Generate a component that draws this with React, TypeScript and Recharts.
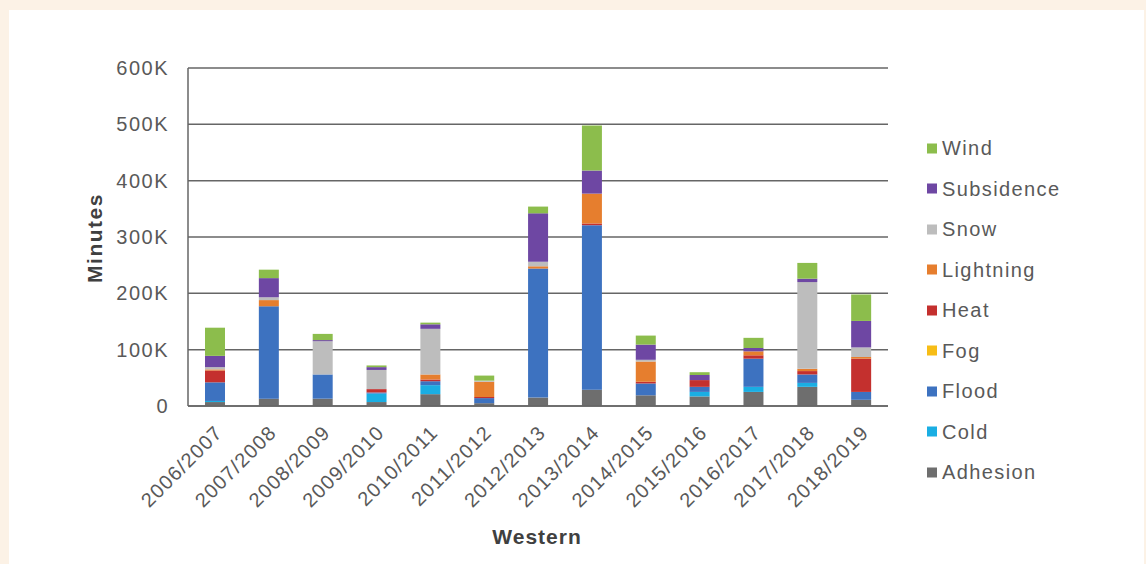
import { BarChart, Bar, XAxis, YAxis, CartesianGrid } from 'recharts'

// seasons on the x axis
const seasons = [
  '2006/2007', '2007/2008', '2008/2009', '2009/2010', '2010/2011', '2011/2012', '2012/2013',
  '2013/2014', '2014/2015', '2015/2016', '2016/2017', '2017/2018', '2018/2019',
]

// delay minutes per cause, in thousands
const adhesion = [7, 13, 13, 7, 21, 5, 15, 29, 19, 17, 25, 34, 11]
const cold = [2, 0, 0, 15, 16, 0, 0, 0, 0, 8, 9, 7, 0]
const flood = [33, 164, 43, 2, 7, 9, 229, 292, 21, 9, 50, 15, 14]
const fog = [0, 0, 0, 0, 0, 0, 0, 0, 0, 0, 0, 0, 0]
const heat = [21, 0, 0, 6, 3, 2, 0, 3, 3, 12, 6, 6, 59]
const lightning = [2, 11, 0, 0, 9, 27, 4, 53, 36, 0, 7, 4, 3]
const snow = [4, 5, 59, 34, 81, 2, 8, 0, 3, 0, 0, 154, 17]
const subsidence = [20, 34, 2, 5, 8, 0, 86, 41, 27, 9, 6, 6, 47]
const wind = [50, 15, 11, 3, 3, 9, 12, 80, 16, 5, 18, 28, 47]

const yTicks = [0, 100000, 200000, 300000, 400000, 500000, 600000]

const series = [
  { key: 'Adhesion', values: adhesion, color: '#6e6e6e' },
  { key: 'Cold', values: cold, color: '#1aaee3' },
  { key: 'Flood', values: flood, color: '#3d72c0' },
  { key: 'Fog', values: fog, color: '#f7bd16' },
  { key: 'Heat', values: heat, color: '#c4302e' },
  { key: 'Lightning', values: lightning, color: '#e67e2e' },
  { key: 'Snow', values: snow, color: '#bdbdbd' },
  { key: 'Subsidence', values: subsidence, color: '#6e47a3' },
  { key: 'Wind', values: wind, color: '#8cbd4c' },
]

const data = seasons.map((season, i) => {
  const row: Record<string, string | number> = { season }
  series.forEach(s => { row[s.key] = s.values[i] * 1000 })
  return row
})

const FONT = '"Liberation Sans", Arial, sans-serif'
const TEXT = '#595959'

const fmtY = (v: number) => (v === 0 ? '0' : `${v / 1000}K`)

function SeasonTick({ x, y, payload }: any) {
  return (
    <g transform={`translate(${x - 1},${y + 10})`}>
      <text
        x={0}
        y={0}
        dy="0.7em"
        transform="rotate(-45)"
        textAnchor="end"
        fontSize={20}
        letterSpacing={1.2}
        fontFamily={FONT}
        fill={TEXT}
      >
        {payload.value}
      </text>
    </g>
  )
}

export default function App() {
  return (
    <div style={{ position: 'fixed', left: 0, top: 0, width: 1146, height: 564, background: '#fcf2e6' }}>
      <div style={{ position: 'absolute', left: 9, top: 10, width: 1135, height: 554, background: '#fff' }} />
      <div style={{ position: 'absolute', left: 0, top: 0 }}>
        <BarChart
          width={1146}
          height={564}
          data={data}
          barSize={20}
          margin={{ top: 68, right: 258, bottom: 58, left: 128 }}
        >
          <CartesianGrid vertical={false} stroke="#666" strokeWidth={1.5} />
          <XAxis
            dataKey="season"
            height={100}
            interval={0}
            tickLine={false}
            axisLine={{ stroke: '#666', strokeWidth: 1.5 }}
            tick={<SeasonTick />}
          />
          <YAxis
            width={60}
            domain={[0, 600000]}
            ticks={yTicks}
            tickFormatter={fmtY}
            tickLine={false}
            tickSize={0}
            tickMargin={19}
            axisLine={{ stroke: '#666', strokeWidth: 1.5 }}
            tick={{ fontSize: 20, fill: TEXT, fontFamily: FONT, letterSpacing: 1.5 }}
          />
          {series.map(s => (
            <Bar key={s.key} dataKey={s.key} stackId="a" fill={s.color} isAnimationActive={false} />
          ))}
        </BarChart>
      </div>
      <div
        style={{
          position: 'absolute', left: 95, top: 238, transform: 'translate(-50%, -50%) rotate(-90deg)',
          fontFamily: FONT, fontWeight: 'bold', fontSize: 21, letterSpacing: 1.5, color: '#404040',
        }}
      >
        Minutes
      </div>
      <div
        style={{
          position: 'absolute', left: 537, top: 537, transform: 'translate(-50%, -50%)',
          fontFamily: FONT, fontWeight: 'bold', fontSize: 21, letterSpacing: 1, color: '#404040',
        }}
      >
        Western
      </div>
      {[...series].reverse().map((s, i) => (
        <div
          key={s.key}
          style={{
            position: 'absolute', left: 927, top: 148 + i * 40.5, transform: 'translateY(-50%)',
            display: 'flex', alignItems: 'center', fontFamily: FONT, fontSize: 20,
            letterSpacing: 1.4, color: TEXT,
          }}
        >
          <span style={{ width: 10, height: 10, background: s.color, marginRight: 5 }} />
          {s.key}
        </div>
      ))}
    </div>
  )
}
